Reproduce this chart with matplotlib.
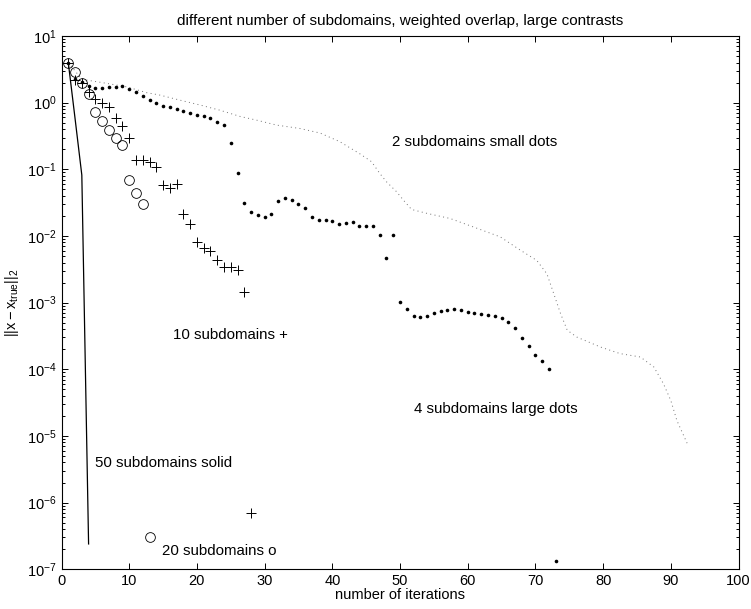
import matplotlib
matplotlib.use("Agg")
import matplotlib.pyplot as plt

plt.rcParams['font.family'] = ['Liberation Sans', 'DejaVu Sans']
plt.rcParams['mathtext.fontset'] = 'custom'
plt.rcParams['mathtext.rm'] = 'Liberation Sans'
plt.rcParams['mathtext.it'] = 'Liberation Sans:italic'
plt.rcParams['mathtext.default'] = 'regular'

# 2 subdomains (dotted line)
it2 = [1, 3, 6, 9.6, 12.6, 14.5, 17.5, 20.5, 23.4, 26.4, 28.7, 31.8, 35.2, 38.2,
       41.1, 44.1, 45.8, 47, 48, 49.5, 50.5, 51.7, 54, 57.4, 60.8, 64.8, 67.8,
       70.2, 71.7, 72.7, 73.7, 74.7, 76.1, 79.6, 82.5, 85.5, 87.5, 88.9, 90,
       90.9, 92.4]
err2 = [4.0, 2.24, 2.0, 1.73, 1.41, 1.30, 1.09, 0.92, 0.77, 0.62, 0.55, 0.46,
        0.41, 0.35, 0.26, 0.17, 0.13, 0.087, 0.065, 0.046, 0.0345, 0.025,
        0.0218, 0.0183, 0.0137, 0.0097, 0.0061, 0.0043, 0.0027, 0.00137,
        0.00069, 0.000386, 0.000305, 0.000216, 0.000172, 0.000153, 0.000108,
        6.1e-5, 3.4e-5, 1.7e-5, 7.8e-6]

# 4 subdomains (large dots)
it4 = list(range(1, 74))
err4 = [4.0, 2.25, 2.02, 1.78, 1.68, 1.68, 1.70, 1.73, 1.78, 1.62,
        1.46, 1.27, 1.09, 0.975, 0.90, 0.85, 0.79, 0.75, 0.70, 0.66,
        0.62, 0.58, 0.52, 0.456, 0.25, 0.087, 0.031, 0.0228, 0.0205, 0.0191,
        0.0215, 0.0337, 0.0366, 0.0345, 0.0304, 0.0261, 0.0191, 0.0175, 0.0175, 0.0169,
        0.0152, 0.0159, 0.0163, 0.0140, 0.0140, 0.0142, 0.0105, 0.0047, 0.0105, 0.00104,
        0.00079, 0.00063, 0.00060, 0.00062, 0.00070, 0.00075, 0.00077, 0.00079, 0.00077, 0.00073,
        0.00069, 0.00068, 0.00066, 0.00063, 0.00059, 0.00051, 0.00042, 0.000295, 0.000221, 0.000164,
        0.000132, 0.0001, 1.34e-7]

# 10 subdomains (+)
it10 = list(range(1, 28)) + [28]
err10 = [4.0, 2.18, 1.95, 1.46, 1.12, 1.0, 0.87, 0.59, 0.44, 0.29,
         0.14, 0.14, 0.13, 0.109, 0.058, 0.052, 0.060, 0.0212, 0.0150, 0.0081,
         0.0067, 0.0060, 0.0043, 0.0034, 0.0034, 0.0031, 0.00145, 7.0e-7]

# 20 subdomains (o)
it20 = list(range(1, 14))
err20 = [4.0, 2.9, 2.0, 1.37, 0.73, 0.53, 0.39, 0.30, 0.233, 0.068,
         0.044, 0.0304, 3.0e-7]

# 50 subdomains (solid)
it50 = [1, 2, 3, 4]
err50 = [4.0, 0.58, 0.082, 2.4e-7]

fig = plt.figure(figsize=(7.51, 6.09), dpi=100)
ax = fig.add_axes([0.0819, 0.0652, 0.9015, 0.8757])

ax.plot(it2, err2, color='0.45', lw=0.7, linestyle=(0, (1, 3.5)))
ax.plot(it4, err4, 'o', color='k', ms=2.6, mew=0)
ax.plot(it10, err10, '+', color='k', ms=7, mew=0.7)
ax.plot(it20, err20, 'o', mfc='none', mec='k', ms=7, mew=0.6)
ax.plot(it50, err50, '-', color='k', lw=0.9)

ax.set_yscale('log')
ax.set_xlim(0, 100)
ax.set_ylim(1e-7, 1e1)
ax.set_xticks(range(0, 101, 10))
ax.tick_params(which='both', direction='in', top=True, right=True,
               labelsize=10.5, width=0.7)
ax.tick_params(which='major', length=4.5)
ax.tick_params(which='minor', length=2.3)
for s in ax.spines.values():
    s.set_linewidth(0.8)

ax.set_title('different number of subdomains, weighted overlap, large contrasts',
             fontsize=11, pad=8)
ax.set_xlabel('number of iterations', fontsize=10.5, labelpad=0)
ax.set_ylabel(r'$||x - x_{true}||_2$', fontsize=10.5, labelpad=4)

ax.text(48.8, 10**-0.587, '2 subdomains small dots', fontsize=10.8, va='center')
ax.text(52.0, 10**-4.59, '4 subdomains large dots', fontsize=10.8, va='center')
ax.text(16.5, 10**-3.49, '10 subdomains +', fontsize=10.8, va='center')
ax.text(4.95, 10**-5.40, '50 subdomains solid', fontsize=10.8, va='center')
ax.text(14.8, 10**-6.73, '20 subdomains o', fontsize=10.8, va='center')

fig.savefig('out.png', dpi=100)
